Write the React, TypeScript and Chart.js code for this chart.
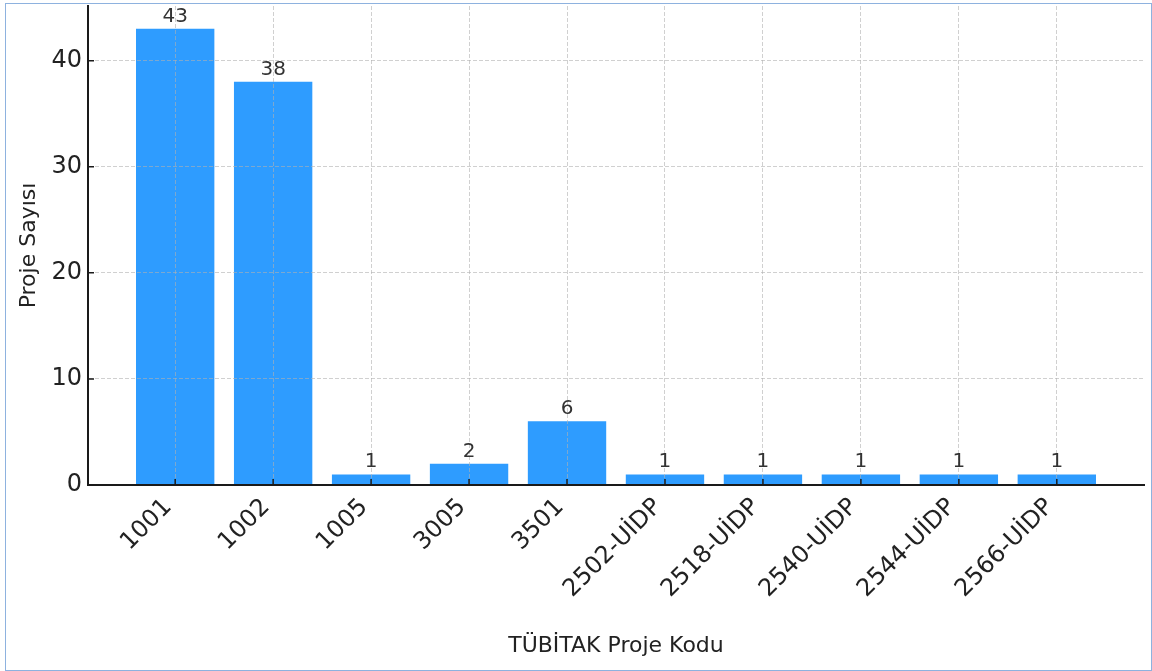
import React, { useEffect, useRef } from 'react';
import { Chart, registerables } from 'chart.js';

Chart.register(...registerables);

const categories = ['1001', '1002', '1005', '3005', '3501', '2502-UİDP', '2518-UİDP', '2540-UİDP', '2544-UİDP', '2566-UİDP'];
const projectCounts = [43, 38, 1, 2, 6, 1, 1, 1, 1, 1];
const yTickValues = [0, 10, 20, 30, 40];
const yAxisTitle = 'Proje Sayısı';
const xAxisTitle = 'TÜBİTAK Proje Kodu';

const FONT = "'DejaVu Sans', sans-serif";
const TEXT = '#222222';
const GRID = 'rgba(176,176,176,0.6)';
const AXIS = '#1a1a1a';
const BAR = '#2e9cff';

export default function App() {
  const ref = useRef<HTMLCanvasElement>(null);

  useEffect(() => {
    document.body.style.margin = '0';
    const canvas = ref.current;
    if (!canvas) return;

    const valueLabels = {
      id: 'valueLabels',
      afterDraw(chart: any) {
        const ctx = chart.ctx;
        const meta = chart.getDatasetMeta(0);
        ctx.save();
        ctx.font = `20px ${FONT}`;
        ctx.fillStyle = '#333333';
        ctx.textAlign = 'center';
        ctx.textBaseline = 'alphabetic';
        meta.data.forEach((bar: any, i: number) => {
          ctx.fillText(String(projectCounts[i]), bar.x, bar.y - 7);
        });
        ctx.restore();
      },
    };

    const innerTicks = {
      id: 'innerTicks',
      afterDraw(chart: any) {
        const ctx = chart.ctx;
        const area = chart.chartArea;
        const xs = chart.scales.x;
        const ys = chart.scales.y;
        ctx.save();
        ctx.strokeStyle = AXIS;
        ctx.lineWidth = 1.5;
        ctx.beginPath();
        xs.ticks.forEach((t: any) => {
          const px = xs.getPixelForValue(t.value);
          ctx.moveTo(px, area.bottom);
          ctx.lineTo(px, area.bottom - 6);
        });
        ys.ticks.forEach((t: any) => {
          const py = ys.getPixelForValue(t.value);
          ctx.moveTo(area.left, py);
          ctx.lineTo(area.left + 6, py);
        });
        ctx.stroke();
        ctx.restore();
      },
    };

    const chart = new Chart(canvas, {
      type: 'bar',
      data: {
        datasets: [
          {
            data: projectCounts.map((v, i) => ({ x: i, y: v })),
            backgroundColor: BAR,
            borderWidth: 0,
            barPercentage: 1,
            categoryPercentage: 0.8,
          },
        ],
      },
      options: {
        animation: false,
        responsive: false,
        maintainAspectRatio: false,
        devicePixelRatio: 1,
        layout: { padding: { top: 6, left: 0, right: 8, bottom: 0 } },
        plugins: {
          legend: { display: false },
          tooltip: { enabled: false },
        },
        scales: {
          x: {
            type: 'linear',
            min: -0.89,
            max: 9.89,
            offset: false,
            afterBuildTicks: (s: any) => {
              s.ticks = categories.map((_, i) => ({ value: i }));
            },
            afterFit: (s: any) => {
              s.height = 186;
              s.paddingLeft = 0;
              s.paddingRight = 0;
            },
            ticks: {
              autoSkip: false,
              minRotation: 45,
              maxRotation: 45,
              padding: 8,
              labelOffset: -7,
              color: TEXT,
              font: { family: FONT, size: 24 },
              callback: (v: any) => categories[v as number],
            },
            grid: {
              offset: false,
              color: GRID,
              lineWidth: 1,
              drawTicks: false,
              z: 1,
            },
            border: { display: true, color: AXIS, width: 2, dash: [4, 2], z: 2 },
            title: {
              display: true,
              text: xAxisTitle,
              color: TEXT,
              font: { family: FONT, size: 22 },
              padding: { top: 0, bottom: 12 },
            },
          },
          y: {
            type: 'linear',
            min: 0,
            max: 45.15,
            afterBuildTicks: (s: any) => {
              s.ticks = yTickValues.map((v) => ({ value: v }));
            },
            afterFit: (s: any) => {
              s.width = 88;
              s.paddingTop = 0;
              s.paddingBottom = 0;
            },
            ticks: {
              padding: 6,
              color: TEXT,
              font: { family: FONT, size: 24 },
            },
            grid: {
              color: GRID,
              lineWidth: 1,
              drawTicks: false,
              z: 1,
            },
            border: { display: true, color: AXIS, width: 2, dash: [4, 2], z: 2 },
            title: {
              display: true,
              text: yAxisTitle,
              color: TEXT,
              font: { family: FONT, size: 22 },
              padding: { top: 16, bottom: 0 },
            },
          },
        },
      },
      plugins: [valueLabels, innerTicks],
    } as any);

    return () => chart.destroy();
  }, []);

  return (
    <div style={{ position: 'relative', width: 1152, height: 671, overflow: 'hidden' }}>
      <canvas ref={ref} width={1152} height={671} style={{ display: 'block', width: 1152, height: 671 }} />
      <div
        style={{
          position: 'absolute',
          left: 5,
          top: 3,
          width: 1147,
          height: 668,
          border: '1.5px solid #8eb2df',
          boxSizing: 'border-box',
          pointerEvents: 'none',
        }}
      />
    </div>
  );
}
